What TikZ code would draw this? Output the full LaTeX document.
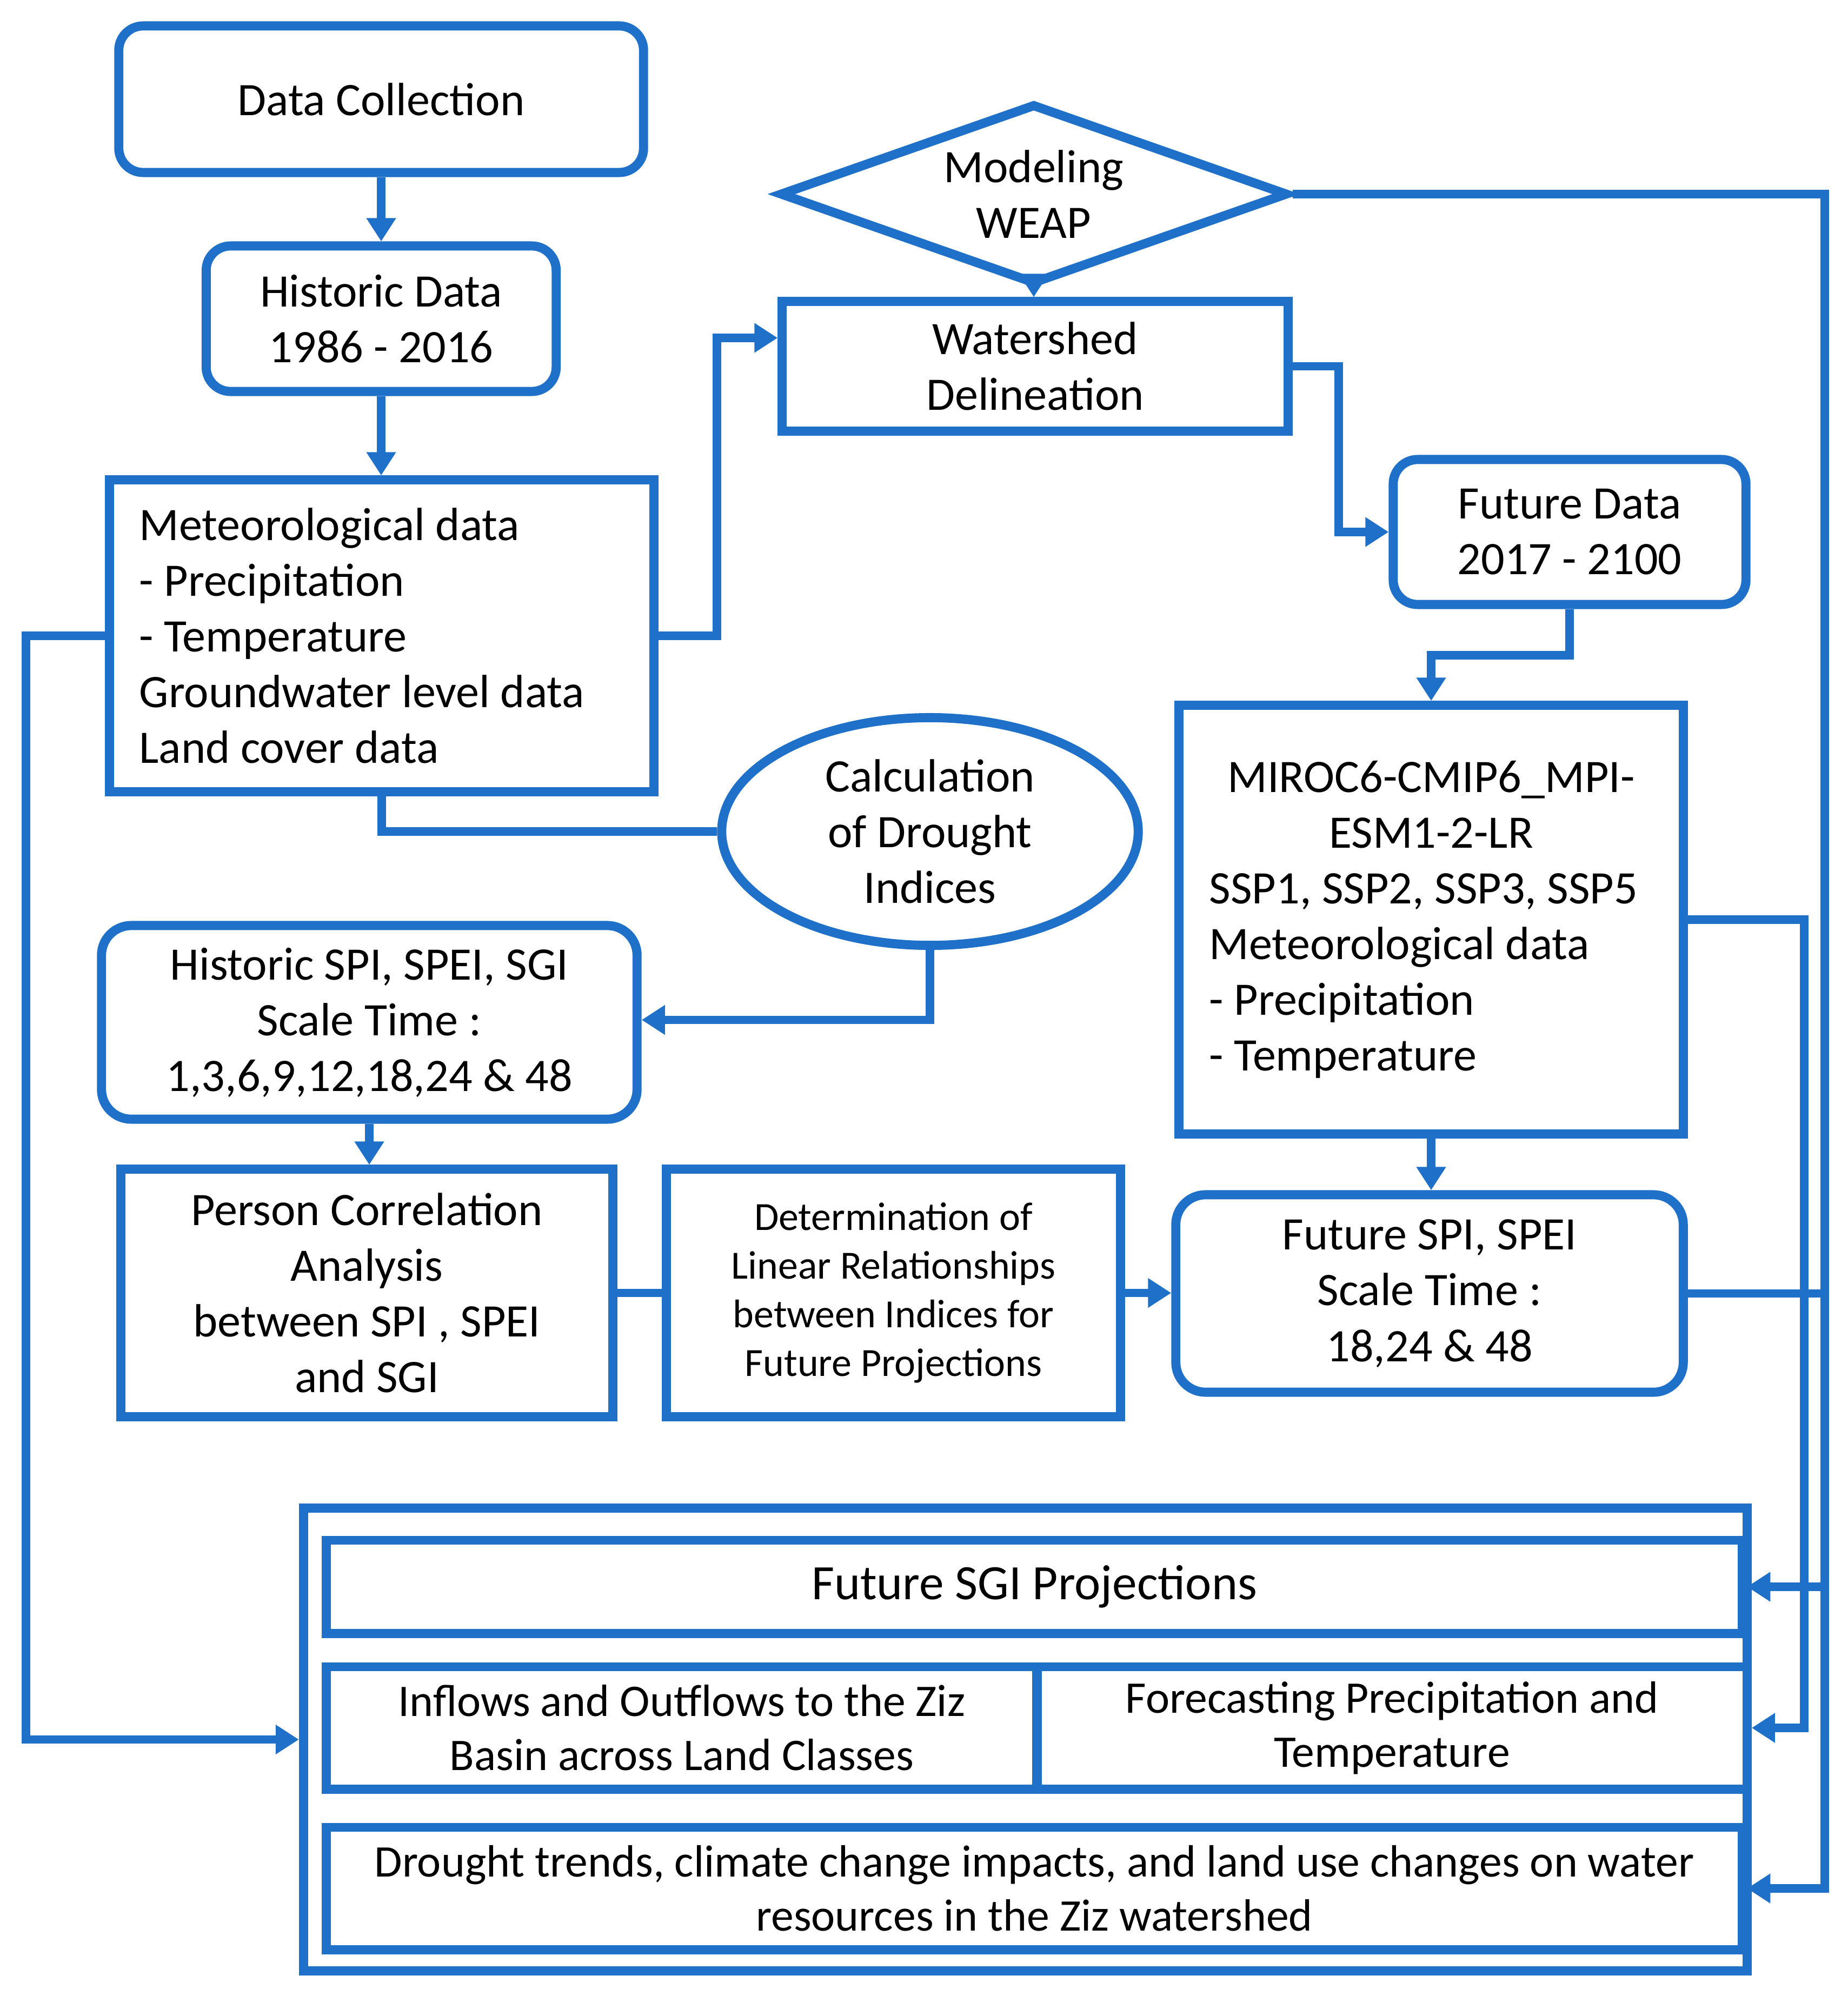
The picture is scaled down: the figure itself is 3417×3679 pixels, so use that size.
\documentclass[tikz,border=0pt]{standalone}
\usepackage{fontspec}
\setmainfont{Carlito}
\usetikzlibrary{arrows.meta,shapes.geometric}
\definecolor{fblue}{RGB}{31,112,200}
\begin{document}
\frenchspacing
\begin{tikzpicture}[x=0.01cm,y=-0.01cm,
  box/.style={draw=fblue, line width=4.8pt, rectangle, inner sep=0pt, align=center, text=black,
    font=\fontsize{24.5}{29.3}\selectfont},
  rbox/.style={box, rounded corners=0.45cm},
  conn/.style={draw=fblue, line width=4.5pt},
  arr/.style={conn, -{Triangle[length=0.43cm,width=0.52cm]}}]
\path[use as bounding box] (0,0) rectangle (3417,3679);

% nodes
\node[rbox, minimum width=9.70cm, minimum height=2.71cm] (dc) at (705,183.5) {Data Collection};
\node[rbox, minimum width=6.47cm, minimum height=2.69cm] (hd) at (705,589.5) {Historic Data\\1986 - 2016};
\node[box, minimum width=10.06cm, minimum height=5.76cm, text width=8.96cm, align=flush left] (met) at (706,1176)
  {Meteorological data\\- Precipitation\\- Temperature\\Groundwater level data\\Land cover data};
\node[box, shape=diamond, aspect=2.81, minimum width=9.40cm, minimum height=3.34cm] (dia) at (1912,359) {Modeling\\WEAP};
\node[box, minimum width=9.35cm, minimum height=2.39cm] (ws) at (1914.5,677.5) {Watershed\\Delineation};
\node[rbox, minimum width=6.52cm, minimum height=2.68cm] (fd) at (2903,984) {Future Data\\2017 - 2100};
\node[box, minimum width=9.32cm, minimum height=7.92cm, text width=8.20cm, align=flush left] (miroc) at (2647,1701)
  {\makebox[8.20cm]{MIROC6-CMIP6\_MPI-}\\\makebox[8.20cm]{ESM1-2-LR}\\SSP1, SSP2, SSP3, SSP5\\Meteorological data\\- Precipitation\\- Temperature};
\node[box, shape=ellipse, minimum width=7.70cm, minimum height=4.21cm] (calc) at (1720,1538) {Calculation\\of Drought\\Indices};
\node[rbox, rounded corners=0.55cm, minimum width=9.90cm, minimum height=3.58cm] (hspi) at (683,1891)
  {Historic SPI, SPEI, SGI\\Scale Time :\\1,3,6,9,12,18,24 \& 48};
\node[box, minimum width=9.09cm, minimum height=4.57cm] (pc) at (678.5,2391.5)
  {Person Correlation\\Analysis\\between SPI , SPEI\\and SGI};
\node[box, minimum width=8.39cm, minimum height=4.57cm, font=\fontsize{21}{25.6}\selectfont] (det) at (1652.5,2391.5)
  {Determination of\\Linear Relationships\\between Indices for\\Future Projections};
\node[rbox, rounded corners=0.55cm, minimum width=9.38cm, minimum height=3.65cm] (fspi) at (2644,2392.5)
  {Future SPI, SPEI\\Scale Time :\\18,24 \& 48};

\node[box, minimum width=26.69cm, minimum height=8.55cm] (outer) at (1896.5,3217.5) {};
\node[box, minimum width=26.18cm, minimum height=1.72cm, font=\fontsize{26}{31}\selectfont] (sgi) at (1913,2935) {Future SGI Projections};
\node[box, minimum width=13.14cm, minimum height=2.26cm, font=\fontsize{23.8}{28.5}\selectfont] (inf) at (1261,3196)
  {Inflows and Outflows to the Ziz\\Basin across Land Classes};
\node[box, minimum width=13.13cm, minimum height=2.26cm, font=\fontsize{23.8}{28.5}\selectfont] (for) at (2574.5,3196)
  {Forecasting Precipitation and\\Temperature};
\node[box, minimum width=26.18cm, minimum height=2.26cm, font=\fontsize{23.8}{28.5}\selectfont] (drt) at (1913,3493)
  {Drought trends, climate change impacts, and land use changes on water\\resources in the Ziz watershed};

% connectors
\draw[arr] (dc.south) -- (dc.south |- hd.north);
\draw[arr] (hd.south) -- (hd.south |- met.north);
\draw[arr] (met.east) -- (1326,1176) |- ([yshift=0.525cm]ws.west);
\draw[arr] (dia.south) -- (dia.south |- ws.north);
\draw[arr] (ws.east) -- (2476,677.5) |- (fd.west);
\draw[arr] (fd.south) -- (2903,1212) -| (miroc.north);
\draw[conn] (met.south) |- (calc.west);
\draw[arr] (calc.south) |- ([yshift=0.045cm]hspi.east);
\draw[arr] (hspi.south) -- (hspi.south |- pc.north);
\draw[conn] (pc.east) -- (det.west);
\draw[arr] (det.east) -- (det.east -| fspi.west);
\draw[arr] (miroc.south) -- (miroc.south |- fspi.north);
\draw[arr] (met.west) -- (48,1176) |- (outer.west);
\draw[arr] (dia.east) -- (3375,359) |- (drt.east);
\draw[arr] (miroc.east) -- (3337,1701) |- (for.east);
\draw[arr] (fspi.east) -- (3375,2392.5) |- (sgi.east);
\end{tikzpicture}
\end{document}
